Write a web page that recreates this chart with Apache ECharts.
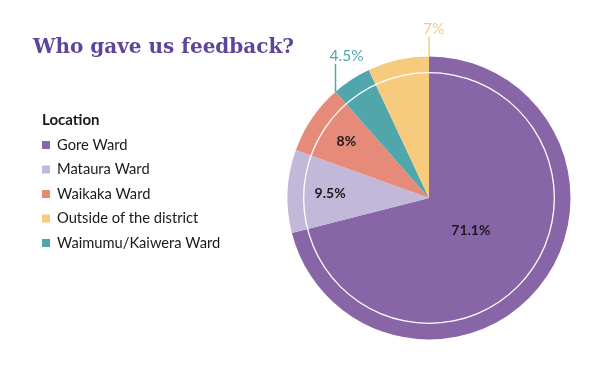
<!DOCTYPE html>
<html><head><meta charset="utf-8">
<script src="https://cdn.jsdelivr.net/npm/echarts@6/dist/echarts.min.js"></script>
<style>html,body{margin:0;padding:0;background:#fff}#c{width:595px;height:365px}</style>
</head><body><div id="c"></div>
<script>
// Data (clockwise order from 12 o'clock)
const categories = ['Gore Ward', 'Mataura Ward', 'Waikaka Ward', 'Waimumu/Kaiwera Ward', 'Outside of the district'];
const values = [71.1, 9.5, 8, 4.5, 7];
const legendOrder = ['Gore Ward', 'Mataura Ward', 'Waikaka Ward', 'Outside of the district', 'Waimumu/Kaiwera Ward'];

// Styles / layout
const colors = ['#8865A7', '#C2B8DA', '#E68B79', '#51A6AC', '#F6CB7D'];
const CX = 429, CY = 198, R = 141.5;
const insideR = {0: 53, 1: 99, 2: 100};
const FONT = 'Lato';

const total = values.reduce((a, b) => a + b, 0);
const cum = [];
values.reduce((acc, v, i) => { cum[i] = acc; return acc + v; }, 0);
function pt(angleDeg, r) {
  const a = angleDeg * Math.PI / 180;
  return [CX + r * Math.sin(a), CY - r * Math.cos(a)];
}

const data = categories.map((n, i) => {
  const outside = i >= 3;
  return {
    name: n, value: values[i],
    itemStyle: {color: colors[i]},
    label: outside ? {position: 'outside', color: colors[i], fontSize: 15.5, fontWeight: 'normal'}
                   : {position: 'inside', color: '#1a1a1a', fontSize: 14, fontWeight: 'bold'},
    labelLine: {show: outside, lineStyle: {color: colors[i], width: 1.5}}
  };
});

const chart = echarts.init(document.getElementById('c'), null, {renderer: 'canvas'});
chart.setOption({
  animation: false,
  title: [
    {text: 'Who gave us feedback?', left: 28, top: 33,
     textStyle: {fontFamily: 'DejaVu Serif', fontWeight: 'bold', fontSize: 20, color: '#5D4699'}},
    {text: 'Location', left: 37, top: 108,
     textStyle: {fontFamily: FONT, fontWeight: 'bold', fontSize: 15, color: '#1a1a1a'}}
  ],
  legend: {
    data: legendOrder, orient: 'vertical', left: 37, top: 132,
    icon: 'rect', itemWidth: 8, itemHeight: 8, itemGap: 8.5,
    textStyle: {fontFamily: FONT, fontSize: 14.7, color: '#1a1a1a', lineHeight: 16, padding: [0, 0, 0, 2]},
    selectedMode: false
  },
  series: [
    {
      type: 'pie', center: [CX, CY], radius: [0, R], startAngle: 90, clockwise: true,
      avoidLabelOverlap: false, silent: true,
      label: {formatter: p => p.value + '%', fontFamily: FONT},
      labelLayout: function (p) {
        const i = p.dataIndex;
        const start = cum[i] / total * 360;
        const end = (cum[i] + values[i]) / total * 360;
        if (i < 3) {
          const [x, y] = pt((start + end) / 2, insideR[i]);
          return {x: x, y: y, align: 'center', verticalAlign: 'middle'};
        }
        const ang = i === 3 ? start : end;
        const [px, py] = pt(ang, R);
        const top = i === 3 ? py - 28 : py - 20;
        return {x: px - 6, y: top - 8, align: 'left', verticalAlign: 'middle',
                labelLinePoints: [[px, py], [px, top], [px, top]]};
      },
      data: data
    },
    {
      type: 'pie', center: [CX, CY], radius: [124.7, 126], silent: true,
      label: {show: false}, labelLine: {show: false},
      itemStyle: {color: '#ffffff'},
      data: [{name: 'ring', value: 1}]
    }
  ]
});
</script></body></html>
